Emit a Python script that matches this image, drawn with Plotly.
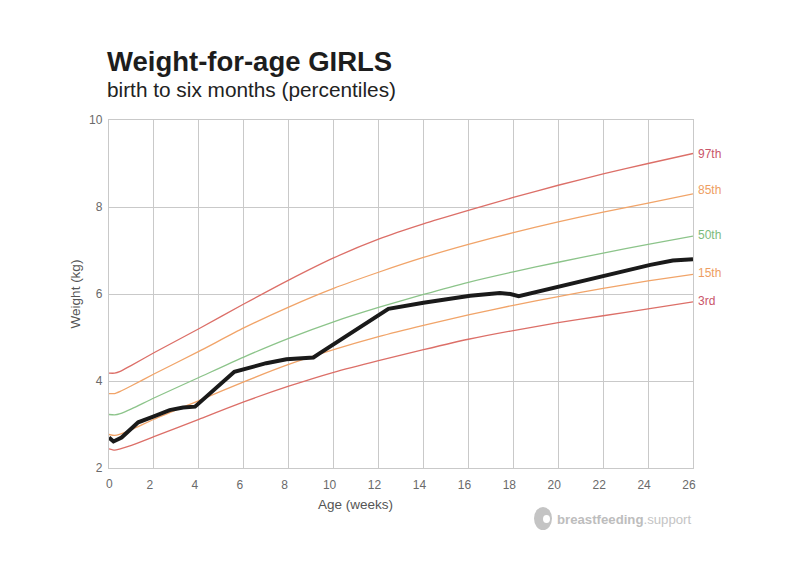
import plotly.graph_objects as go

FONT = "Liberation Sans"
GRID = "#c9c9c9"
TICK_FONT = dict(family=FONT, size=12, color="#6a6a6a")

# page has an 8px body margin, so plot margins are set 8px short
M_L, M_R, M_T, M_B = 101, 115, 112, 106
PLOT_W = 800 - M_L - M_R
PLOT_H = 566 - M_T - M_B


def px_x(px):
    return (px - 8 - M_L) / PLOT_W


def px_y(py):
    return 1 - (py - 8 - M_T) / PLOT_H


# percentile curves
weeks = [0, 0.25, 0.5, 1, 2, 4, 6, 8, 10, 12, 14, 16, 18, 20, 22, 24, 26]
p97 = [4.18, 4.18, 4.22, 4.36, 4.65, 5.2, 5.77, 6.32, 6.83, 7.26, 7.61, 7.92, 8.22, 8.5, 8.76, 9.0, 9.23]
p85 = [3.71, 3.71, 3.76, 3.89, 4.16, 4.68, 5.22, 5.7, 6.13, 6.5, 6.84, 7.14, 7.41, 7.66, 7.88, 8.09, 8.3]
p50 = [3.23, 3.22, 3.25, 3.36, 3.61, 4.08, 4.55, 4.98, 5.36, 5.69, 5.99, 6.27, 6.51, 6.73, 6.94, 7.14, 7.33]
p15 = [2.77, 2.75, 2.78, 2.88, 3.12, 3.55, 3.98, 4.38, 4.72, 5.02, 5.28, 5.52, 5.74, 5.94, 6.13, 6.3, 6.45]
p3 = [2.44, 2.41, 2.44, 2.52, 2.72, 3.12, 3.52, 3.88, 4.2, 4.47, 4.72, 4.96, 5.16, 5.34, 5.5, 5.66, 5.82]

# the baby's own weight line
baby_weeks = [0, 0.2, 0.56, 0.93, 1.3, 1.97, 2.7, 3.3, 3.83, 5.58, 6.13, 7.0, 7.9, 9.1, 9.39, 12.44,
              14, 16.08, 17.4, 17.87, 18.24, 20.1, 22.1, 24.1, 25.1, 26]
baby_kg = [2.7, 2.61, 2.7, 2.89, 3.05, 3.18, 3.33, 3.39, 3.41, 4.21, 4.29, 4.41, 4.5, 4.54, 4.64, 5.66,
           5.8, 5.96, 6.02, 6.0, 5.95, 6.18, 6.44, 6.67, 6.77, 6.8]

x_ticks = list(range(2, 27, 2))
y_ticks = [2, 4, 6, 8, 10]

curves = [
    ("97th", p97, "#dc6f68", "#c9566a", 9.21),
    ("85th", p85, "#f1a469", "#ee9e62", 8.39),
    ("50th", p50, "#8cc48a", "#7dbb7d", 7.35),
    ("15th", p15, "#f1a469", "#ee9e62", 6.48),
    ("3rd", p3, "#dc6f68", "#c9566a", 5.84),
]

fig = go.Figure()
for name, vals, col, label_col, label_y in curves:
    fig.add_trace(go.Scatter(x=weeks, y=vals, mode="lines", name=name,
                             line=dict(color=col, width=1.3, shape="spline", smoothing=0.6)))
    fig.add_annotation(x=26, y=label_y, text=name, showarrow=False, xanchor="left", xshift=3,
                       font=dict(family=FONT, size=12, color=label_col))

fig.add_trace(go.Scatter(x=baby_weeks, y=baby_kg, mode="lines", name="baby",
                         line=dict(color="#1a1a1a", width=4)))

# title block
fig.add_annotation(x=px_x(105), y=px_y(62), xref="paper", yref="paper", showarrow=False,
                   xanchor="left", yanchor="middle", text="<b>Weight-for-age GIRLS</b>",
                   font=dict(family=FONT, size=27.5, color="#1d1d1d"))
fig.add_annotation(x=px_x(105), y=px_y(90), xref="paper", yref="paper", showarrow=False,
                   xanchor="left", yanchor="middle", text="birth to six months (percentiles)",
                   font=dict(family=FONT, size=20.8, color="#222222"))

# the 0 label sits under the axis corner, the others sit left of their gridline
fig.add_annotation(x=0, y=px_y(484), yref="paper", yanchor="middle", showarrow=False,
                   text="0", font=TICK_FONT)

# x title is left of the plot centre in the original
fig.add_annotation(x=px_x(355), y=px_y(505), xref="paper", yref="paper", yanchor="middle",
                   showarrow=False, text="Age (weeks)",
                   font=dict(family=FONT, size=13.5, color="#555555"))

# logo
fig.add_annotation(x=px_x(555), y=px_y(519), xref="paper", yref="paper", showarrow=False,
                   xanchor="left", yanchor="middle",
                   text="<b>breastfeeding</b><span style='color:#c4c4c4'>.support</span>",
                   font=dict(family=FONT, size=13.2, color="#bdbdbd"))
fig.add_shape(type="circle", xref="paper", yref="paper", x0=px_x(534), x1=px_x(552),
              y0=px_y(530), y1=px_y(507), fillcolor="#c4c4c4", line=dict(width=0))
fig.add_shape(type="circle", xref="paper", yref="paper", x0=px_x(543), x1=px_x(550),
              y0=px_y(523), y1=px_y(515), fillcolor="#ffffff", line=dict(width=0))

fig.update_layout(
    width=800, height=566, autosize=False, showlegend=False,
    paper_bgcolor="#ffffff", plot_bgcolor="#ffffff",
    margin=dict(l=M_L, r=M_R, t=M_T, b=M_B),
    font=dict(family=FONT, size=12, color="#666666"),
    xaxis=dict(range=[0, 26], tickvals=x_ticks, ticks="", ticklabelshift=-4, ticklabelstandoff=5,
               tickfont=TICK_FONT, showgrid=True, gridcolor=GRID, gridwidth=1.4, zeroline=False,
               showline=True, mirror=True, linecolor=GRID, linewidth=1.4),
    yaxis=dict(range=[2, 10], tickvals=y_ticks, ticks="", ticklabelstandoff=3, tickfont=TICK_FONT,
               showgrid=True, gridcolor=GRID, gridwidth=1.4, zeroline=False,
               showline=True, mirror=True, linecolor=GRID, linewidth=1.4,
               title=dict(text="Weight (kg)", standoff=5, font=dict(size=13.5, color="#555555"))),
)

fig.write_html("out.html")
